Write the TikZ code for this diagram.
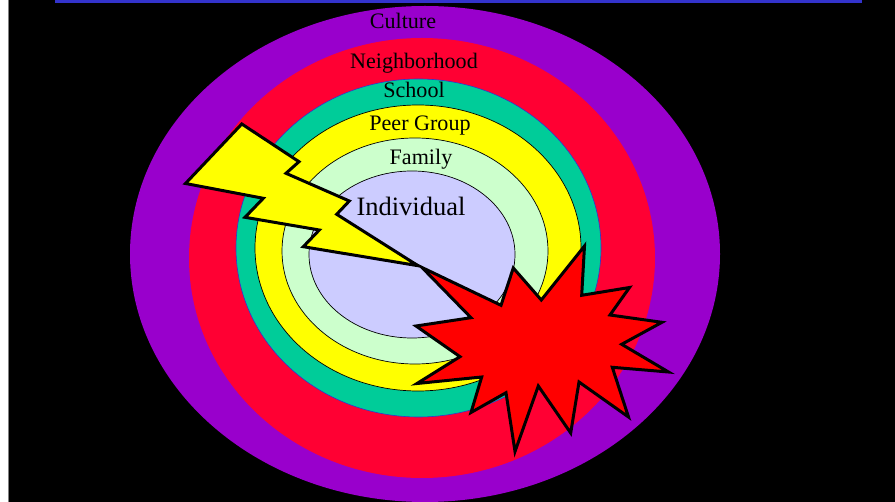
\documentclass[tikz,border=0pt]{standalone}
\usepackage{fontspec}
\setmainfont{Liberation Serif}
\usepackage{tikz}
\usetikzlibrary{positioning, shapes.geometric}

\definecolor{culturecol}{HTML}{9900CC}
\definecolor{neighborcol}{HTML}{FF0033}
\definecolor{schoolcol}{HTML}{00CC99}
\definecolor{peercol}{HTML}{FFFF00}
\definecolor{familycol}{HTML}{CCFFCC}
\definecolor{individualcol}{HTML}{CCCCFF}
\definecolor{barcol}{HTML}{3333CC}

\begin{document}
\begin{tikzpicture}[
	x=1pt,
	y=-1pt,
	ring/.style={ellipse,inner sep=0pt,outer sep=0pt},
	ringline/.style={ring,draw=black,line width=0.7pt},
	tag/.style={inner sep=0pt,font=\fontsize{22.1}{24}\selectfont},
	burst/.style={draw=black,line width=3pt,line join=miter,miter limit=10}
]
\useasboundingbox (0,0) rectangle (895,502);
\clip (0,0) rectangle (895,502);
\fill[white] (0,0) rectangle (895,502);
\fill[black] (8.5,0) rectangle (895,502);
\draw[gray,line width=0.7pt] (8.3,0) -- (8.3,502);
\fill[barcol] (55,0) rectangle (862,3);

\node[ring,fill=culturecol,minimum width=590pt,minimum height=496pt] (culture) at (425,254) {};
\node[ring,fill=neighborcol,minimum width=466pt,minimum height=440pt] (neighborhood) at (422,258) {};
\node[ring,fill=schoolcol,draw=barcol,line width=0.6pt,minimum width=365pt,minimum height=338pt] (school) at (418.5,248) {};
\node[ringline,fill=peercol,minimum width=326pt,minimum height=286pt] (peer) at (418,248) {};
\node[ringline,fill=familycol,minimum width=266pt,minimum height=226pt] (family) at (415,251) {};
\node[ringline,fill=individualcol,minimum width=206pt,minimum height=167pt] (individual) at (412,254.5) {};

\node[tag] (culture.tag) at (403,21) {Culture};
\node[tag] (neighborhood.tag) at (414,63.5) {Neighborhood};
\node[tag] (school.tag) at (414,90) {School};
\node[tag] (peer.tag) at (420,125.5) {Peer Group};
\node[tag] (family.tag) at (421,159) {Family};
\node[tag,font=\fontsize{26.5}{28}\selectfont] (individual.tag) at (411,206.5) {Individual};

% lightning
\draw[burst,fill=peercol] (241.8,124) -- (299,161.7) -- (286,173.3) -- (349.3,201) -- (336.7,214.3)
	-- (418,265.7) -- (303.3,246.7) -- (319.3,230) -- (245,217.3) -- (263.3,198.3) -- (185.5,183.5) -- cycle;
% explosion
\draw[burst,fill=red] (422,267.5) -- (501,305.3) -- (513.3,268) -- (541.3,300) -- (584.5,246)
	-- (581.7,295.3) -- (629.5,287.5) -- (610,315) -- (662,322.3) -- (621.7,344.3)
	-- (668.5,372) -- (612.3,367.3) -- (628.5,417) -- (579,382) -- (570.7,433)
	-- (538.3,386) -- (515,451.5) -- (506,392.7) -- (471,412.5) -- (481.7,377)
	-- (417,383.5) -- (460,356.7) -- (416,326) -- (471,317.7) -- cycle;
\end{tikzpicture}
\end{document}
